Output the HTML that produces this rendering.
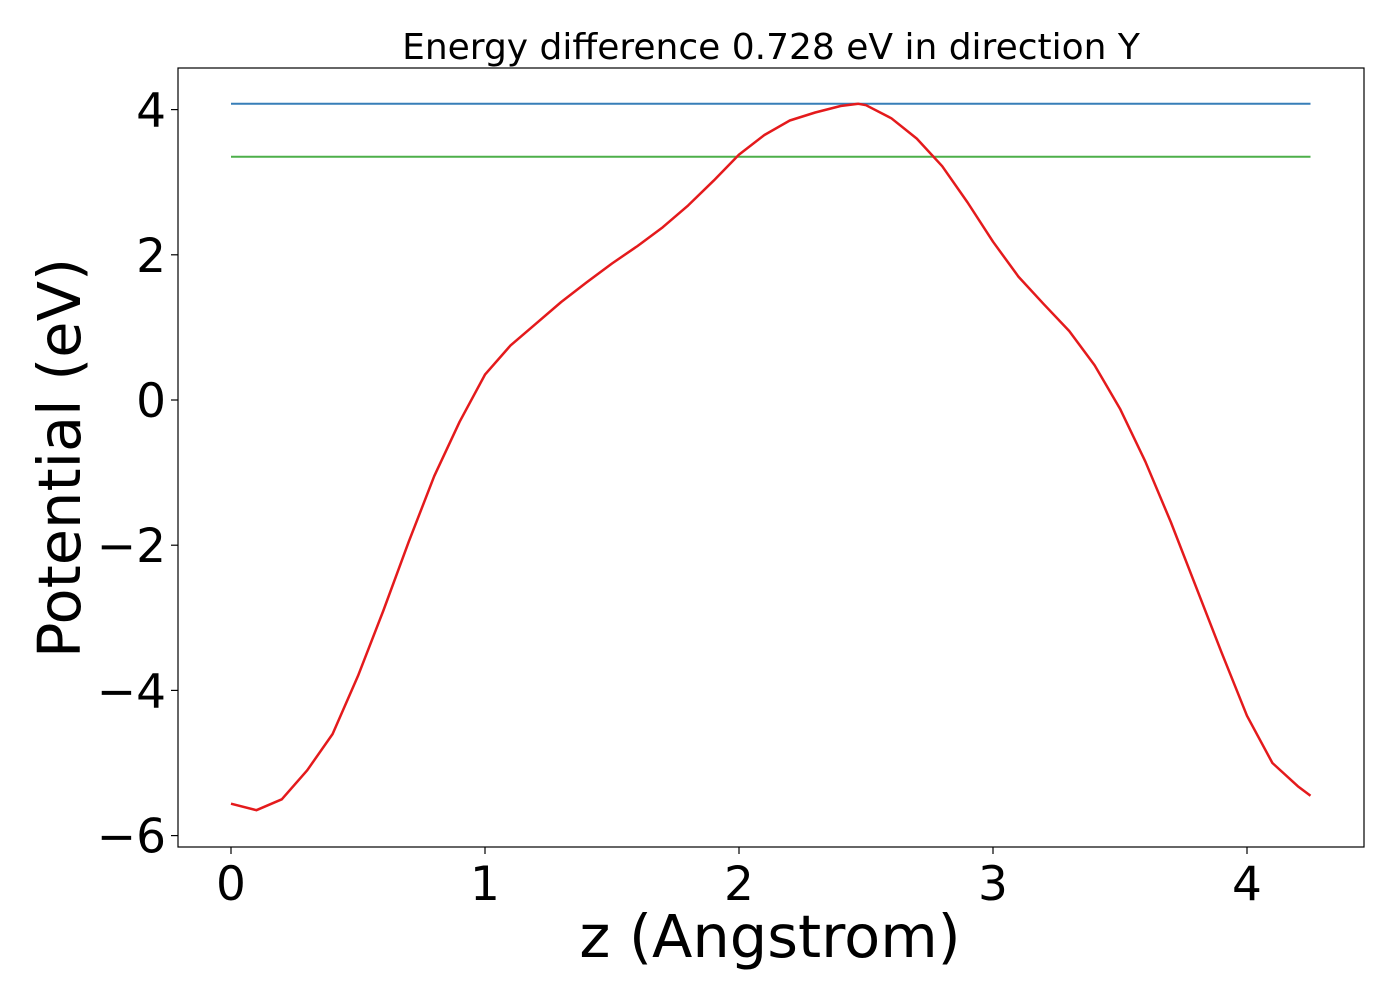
<!DOCTYPE html>
<html><head><meta charset="utf-8"><style>
body{margin:0;background:#fff;}
svg text{font-family:"DejaVu Sans","Liberation Sans",sans-serif;}
</style></head><body>
<svg id="chart" width="1400" height="1000" xmlns="http://www.w3.org/2000/svg">
<text x="771" y="59" font-size="36" text-anchor="middle">Energy difference 0.728 eV in direction Y</text>
<g id="plot"></g>
<text x="770" y="957" font-size="59" text-anchor="middle">z (Angstrom)</text>
<text transform="translate(80,458) rotate(-90)" font-size="59" text-anchor="middle">Potential (eV)</text>
</svg>
<script>
const zValues=[0,0.1,0.2,0.3,0.4,0.5,0.6,0.7,0.8,0.9,1.0,1.1,1.2,1.3,1.4,1.5,1.6,1.7,1.8,1.9,2.0,2.1,2.2,2.3,2.4,2.47,2.5,2.6,2.7,2.8,2.9,3.0,3.1,3.2,3.3,3.4,3.5,3.6,3.7,3.8,3.9,4.0,4.1,4.2,4.25];
const potential=[-5.56,-5.65,-5.5,-5.1,-4.6,-3.8,-2.9,-1.95,-1.05,-0.3,0.35,0.75,1.05,1.35,1.62,1.88,2.12,2.38,2.68,3.02,3.38,3.65,3.85,3.96,4.05,4.08,4.06,3.88,3.6,3.22,2.72,2.18,1.7,1.32,0.95,0.48,-0.12,-0.85,-1.68,-2.58,-3.48,-4.35,-5.0,-5.32,-5.45];
const maxLevel=[4.08];
const refLevel=[3.35];
const xTicks=[0,1,2,3,4];
const yTicks=[-6,-4,-2,0,2,4];
const yTickLabels=["\u22126","\u22124","\u22122","0","2","4"];

const L=178,R=1364,T=68,B=847;
const sx=v=>231+v*254;
const sy=v=>400-v*72.6;
const NS="http://www.w3.org/2000/svg";
const g=document.getElementById('plot');
function mk(tag,attrs){const e=document.createElementNS(NS,tag);for(const k in attrs)e.setAttribute(k,attrs[k]);g.appendChild(e);return e;}

const frame=mk('rect',{x:L,y:T,width:R-L,height:B-T,fill:'none',stroke:'#000','stroke-width':1.2});



xTicks.forEach(t=>{
  const tk=mk('line',{x1:sx(t),x2:sx(t),y1:B,y2:B+7,stroke:'#000','stroke-width':1.2});
  
  
  const tx=mk('text',{x:sx(t),y:B+53,'font-size':47,'text-anchor':'middle'});
  tx.textContent=String(t);
  
  
});
yTicks.forEach((t,i)=>{
  const tk=mk('line',{x1:L-7,x2:L,y1:sy(t),y2:sy(t),stroke:'#000','stroke-width':1.2});
  
  
  const tx=mk('text',{x:L-12,y:sy(t)+17,'font-size':47,'text-anchor':'end'});
  tx.textContent=yTickLabels[i];
  
  
});

const x0=zValues[0],x1=zValues[zValues.length-1];
const bl=mk('line',{x1:sx(x0),x2:sx(x1),y1:sy(maxLevel[0]),y2:sy(maxLevel[0]),stroke:'#377eb8','stroke-width':2});


const gl=mk('line',{x1:sx(x0),x2:sx(x1),y1:sy(refLevel[0]),y2:sy(refLevel[0]),stroke:'#4daf4a','stroke-width':2});



const pts=zValues.map((z,i)=>sx(z).toFixed(1)+','+sy(potential[i]).toFixed(1)).join(' ');
const pl=mk('polyline',{points:pts,fill:'none',stroke:'#e41a1c','stroke-width':2.5,'stroke-linejoin':'round'});


</script>
</body></html>
